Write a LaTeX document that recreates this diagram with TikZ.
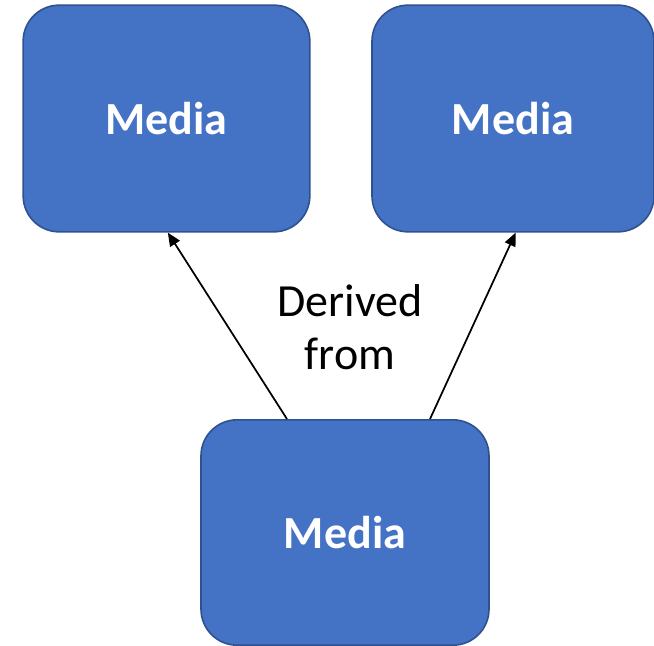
\documentclass[tikz,border=0pt]{standalone}
\usepackage{fontspec}
\setmainfont{Carlito}
\usetikzlibrary{arrows.meta}
\definecolor{mediablue}{HTML}{4472C4}
\definecolor{mediaedge}{HTML}{2F528F}

\begin{document}
\begin{tikzpicture}[x=0.75pt, y=-0.75pt,
    mediabox/.style={draw=mediaedge, line width=1.2pt, fill=mediablue,
      rounded corners=27pt, inner sep=0pt, text=white,
      font=\fontsize{34.5}{40}\selectfont\bfseries},
    derived/.style={-{Triangle[length=10pt,width=8.5pt]}, line width=1.3pt}]
    \useasboundingbox (0,0) rectangle (654,646);
    \node[mediabox, minimum width=215pt, minimum height=170pt] (left) at (166.5, 118.5) {Media};
    \node[mediabox, minimum width=211.5pt, minimum height=170pt] (right) at (513, 118.5) {Media};
    \node[mediabox, minimum width=216pt, minimum height=169pt] (src) at (345, 532.5) {Media};
    \node[align=center, font=\fontsize{34.5}{40}\selectfont] (lbl) at (350, 327) {Derived\\from};
    \coordinate (la) at ([xshift=-43.5pt]src.north);
    \coordinate (ra) at ([xshift=63.75pt]src.north);
    \draw[derived] (la) -- ([xshift=1pt]left.south);
    \draw[derived] (ra) -- ([xshift=2pt]right.south);
  \end{tikzpicture}
\end{document}
